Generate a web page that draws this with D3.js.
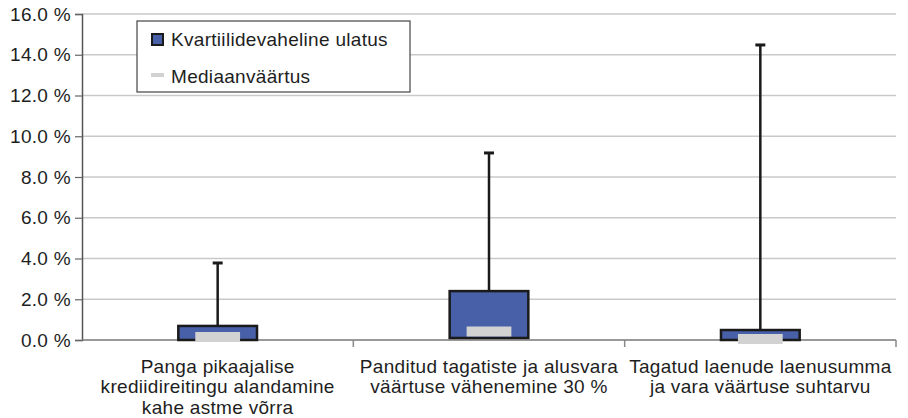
<!DOCTYPE html>
<html>
<head>
<meta charset="utf-8">
<script src="https://cdn.jsdelivr.net/npm/d3@7"></script>
<style>
    body { margin: 0; background: #fff; }
    text { font-family: "Liberation Sans", Arial, sans-serif; fill: #1e1e1e; }
</style>
</head>
<body>
<div id="chart"></div>
<script>
// categories (lines of each label)
var categories = [
    ["Panga pikaajalise", "krediidireitingu alandamine", "kahe astme võrra"],
    ["Panditud tagatiste ja alusvara", "väärtuse vähenemine 30 %"],
    ["Tagatud laenude laenusumma", "ja vara väärtuse suhtarvu"]
];
// quartiles, median and maximum, in %
var q1 = [0.0, 0.1, 0.0];
var q3 = [0.69, 2.4, 0.49];
var median = [0.15, 0.42, 0.05];
var whiskerMax = [3.78, 9.18, 14.48];
var yTicks = [0, 2, 4, 6, 8, 10, 12, 14, 16];
var legendLabels = ["Kvartiilidevaheline ulatus", "Mediaanväärtus"];

var margin = { top: 14, right: 12, bottom: 78, left: 82 },
    width = 908 - margin.left - margin.right,
    height = 418 - margin.top - margin.bottom;

var fontSize = "19px";

var svg = d3.select("#chart")
    .append("svg")
    .attr("width", 908)
    .attr("height", 418)
    .append("g")
    .attr("transform", "translate(" + margin.left + "," + margin.top + ")");

var x = d3.scaleBand()
    .domain(d3.range(categories.length))
    .range([0, width])
    .paddingInner(0)
    .paddingOuter(0);

var y = d3.scaleLinear()
    .domain([0, 16])
    .range([height, 0]);

// gridlines
svg.append("g")
    .selectAll("line")
    .data(yTicks.slice(1))
    .enter().append("line")
    .attr("x1", 0)
    .attr("x2", width)
    .attr("y1", function (d) { return y(d); })
    .attr("y2", function (d) { return y(d); })
    .attr("stroke", "#c9c9c9")
    .attr("stroke-width", 1.5);

// y axis
var yAxis = svg.append("g")
    .call(d3.axisLeft(y).tickValues(yTicks).tickSize(7).tickPadding(4)
        .tickFormat(function (d) { return d.toFixed(1) + " %"; }));
yAxis.select(".domain").attr("stroke", "#555").attr("stroke-width", 1.5);
yAxis.selectAll(".tick line").attr("stroke", "#666").attr("stroke-width", 1.2);
yAxis.selectAll("text")
    .attr("font-size", null)
    .style("font-size", fontSize)
    .style("letter-spacing", "0.3px")
    .attr("fill", "#1e1e1e");

// x axis with ticks at band borders
var xAxis = svg.append("g")
    .attr("transform", "translate(0," + height + ")");
xAxis.append("line")
    .attr("x1", 0).attr("x2", width)
    .attr("stroke", "#777").attr("stroke-width", 1.5);
xAxis.selectAll(".sep")
    .data(d3.range(1, categories.length + 1))
    .enter().append("line")
    .attr("class", "sep")
    .attr("x1", function (d) { return d * x.bandwidth(); })
    .attr("x2", function (d) { return d * x.bandwidth(); })
    .attr("y1", 0).attr("y2", 7)
    .attr("stroke", "#888").attr("stroke-width", 1.5);

var labels = xAxis.selectAll(".cat")
    .data(categories)
    .enter().append("text")
    .attr("class", "cat")
    .attr("text-anchor", "middle")
    .attr("x", function (d, i) { return x(i) + x.bandwidth() / 2; })
    .style("font-size", fontSize)
    .style("letter-spacing", "0.3px");
labels.selectAll("tspan")
    .data(function (d) { return d; })
    .enter().append("tspan")
    .attr("x", function () { return d3.select(this.parentNode).attr("x"); })
    .attr("y", function (d, i) { return 32.5 + i * 20.5; })
    .text(function (d) { return d; });

var boxW = x.bandwidth() * 0.29,
    medW = x.bandwidth() * 0.165;

var boxes = svg.selectAll(".box")
    .data(categories)
    .enter().append("g")
    .attr("class", "box");

// whiskers
boxes.append("line")
    .attr("x1", function (d, i) { return x(i) + x.bandwidth() / 2; })
    .attr("x2", function (d, i) { return x(i) + x.bandwidth() / 2; })
    .attr("y1", function (d, i) { return y(q3[i]); })
    .attr("y2", function (d, i) { return y(whiskerMax[i]); })
    .attr("stroke", "#1a1a1a")
    .attr("stroke-width", 2.5);
boxes.append("line")
    .attr("x1", function (d, i) { return x(i) + x.bandwidth() / 2 - 5; })
    .attr("x2", function (d, i) { return x(i) + x.bandwidth() / 2 + 5; })
    .attr("y1", function (d, i) { return y(whiskerMax[i]); })
    .attr("y2", function (d, i) { return y(whiskerMax[i]); })
    .attr("stroke", "#1a1a1a")
    .attr("stroke-width", 3);

// interquartile boxes
boxes.append("rect")
    .attr("x", function (d, i) { return x(i) + (x.bandwidth() - boxW) / 2; })
    .attr("width", boxW)
    .attr("y", function (d, i) { return y(q3[i]); })
    .attr("height", function (d, i) { return y(q1[i]) - y(q3[i]); })
    .attr("fill", "#4760a8")
    .attr("stroke", "#1a1a1a")
    .attr("stroke-width", 2.5);

// median markers
boxes.append("line")
    .attr("x1", function (d, i) { return x(i) + (x.bandwidth() - medW) / 2; })
    .attr("x2", function (d, i) { return x(i) + (x.bandwidth() + medW) / 2; })
    .attr("y1", function (d, i) { return y(median[i]); })
    .attr("y2", function (d, i) { return y(median[i]); })
    .attr("stroke", "#d2d2d2")
    .attr("stroke-width", 10);

// legend
var legend = svg.append("g")
    .attr("transform", "translate(" + (137 - margin.left) + "," + (21 - margin.top) + ")");
legend.append("rect")
    .attr("width", 273).attr("height", 71)
    .attr("fill", "#fff")
    .attr("stroke", "#444").attr("stroke-width", 1.2);
legend.append("rect")
    .attr("x", 15).attr("y", 13).attr("width", 11).attr("height", 11)
    .attr("fill", "#4760a8").attr("stroke", "#1a1a1a").attr("stroke-width", 2);
legend.append("line")
    .attr("x1", 14).attr("x2", 27).attr("y1", 54).attr("y2", 54)
    .attr("stroke", "#d2d2d2").attr("stroke-width", 4);
legend.selectAll(".lbl")
    .data(legendLabels)
    .enter().append("text")
    .attr("class", "lbl")
    .attr("x", 34)
    .attr("y", function (d, i) { return 25 + i * 37; })
    .style("font-size", fontSize)
    .style("letter-spacing", "0.3px")
    .text(function (d) { return d; });
</script>
</body>
</html>
